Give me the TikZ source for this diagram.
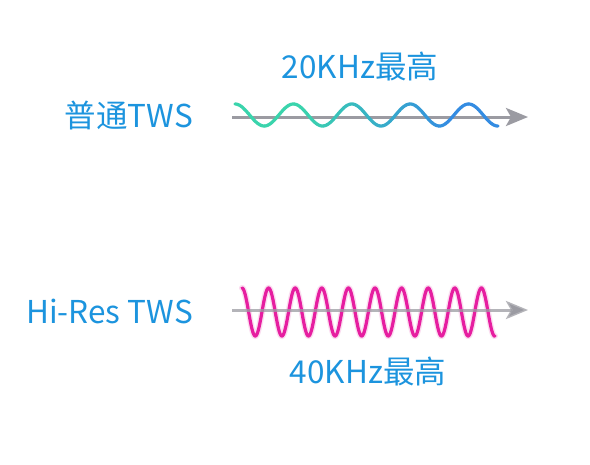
\documentclass[tikz,border=0pt]{standalone}
\usepackage{fontspec}
\newfontfamily\cjk{Noto Sans CJK SC}
\usetikzlibrary{arrows.meta}
\definecolor{txtblue}{RGB}{28,148,222}
\definecolor{wteal}{RGB}{58,212,172}
\definecolor{wblue}{RGB}{52,140,226}
\definecolor{wpink}{RGB}{230,30,160}
\definecolor{axisgray}{RGB}{155,155,162}
\tikzset{
  lbl/.style={font=\cjk\fontsize{31.5}{34}\selectfont, text=txtblue, inner sep=0pt},
  axisarrow/.style={draw=axisgray, line width=3pt, -{Stealth[length=22pt,width=18pt,inset=5pt]}},
  wavepen/.style={line width=3.2pt, line cap=round}
}
\begin{document}
\begin{tikzpicture}[x=1pt,y=-1pt]
\path[use as bounding box, fill=white] (0,0) rectangle (590,464);
% labels
\node[lbl, anchor=base] (toplbl) at (360,78) {20KHz最高};
\node[lbl, anchor=base east] (normal) at (193,127) {普通TWS};
\node[lbl, anchor=base east] (hires) at (193,323) {Hi-Res TWS};
\node[lbl, anchor=base] (botlbl) at (368,383) {40KHz最高};
% top axis
\coordinate (a1s) at (232,117);
\coordinate (a1e) at (528,117);
\draw[axisarrow] (a1s) -- (a1e);
% top wave with gradient (period 58.4 -> 6.1644 deg per unit; 80 segments of 3.2875)
\foreach \i in {0,...,79}{
  \pgfmathsetmacro\xa{235+\i*3.2875}
  \pgfmathsetmacro\xb{\xa+3.2875}
  \pgfmathsetmacro\xm{\xa+1.64-300}
  \pgfmathtruncatemacro\p{max(0,min(100,\xm/1.5))}
  \draw[wavepen, color=wblue!\p!wteal] plot[domain=\xa:\xb, samples=6, variable=\t] ({\t},{115-11*cos(6.1644*(\t-235))});
}
% bottom wave (period 26.6 -> 13.534 deg per unit)
\draw[line width=6pt, line cap=round, wpink, opacity=0.15] plot[domain=242:495, samples=400, variable=\t] ({\t},{312-24*cos(13.534*(\t-242))});
\draw[wavepen, wpink] plot[domain=242:495, samples=400, variable=\t] ({\t},{312-24*cos(13.534*(\t-242))});
% bottom axis
\coordinate (a2s) at (232,310);
\coordinate (a2e) at (528,310);
\draw[axisarrow, draw opacity=0.75] (a2s) -- (a2e);
\end{tikzpicture}
\end{document}
